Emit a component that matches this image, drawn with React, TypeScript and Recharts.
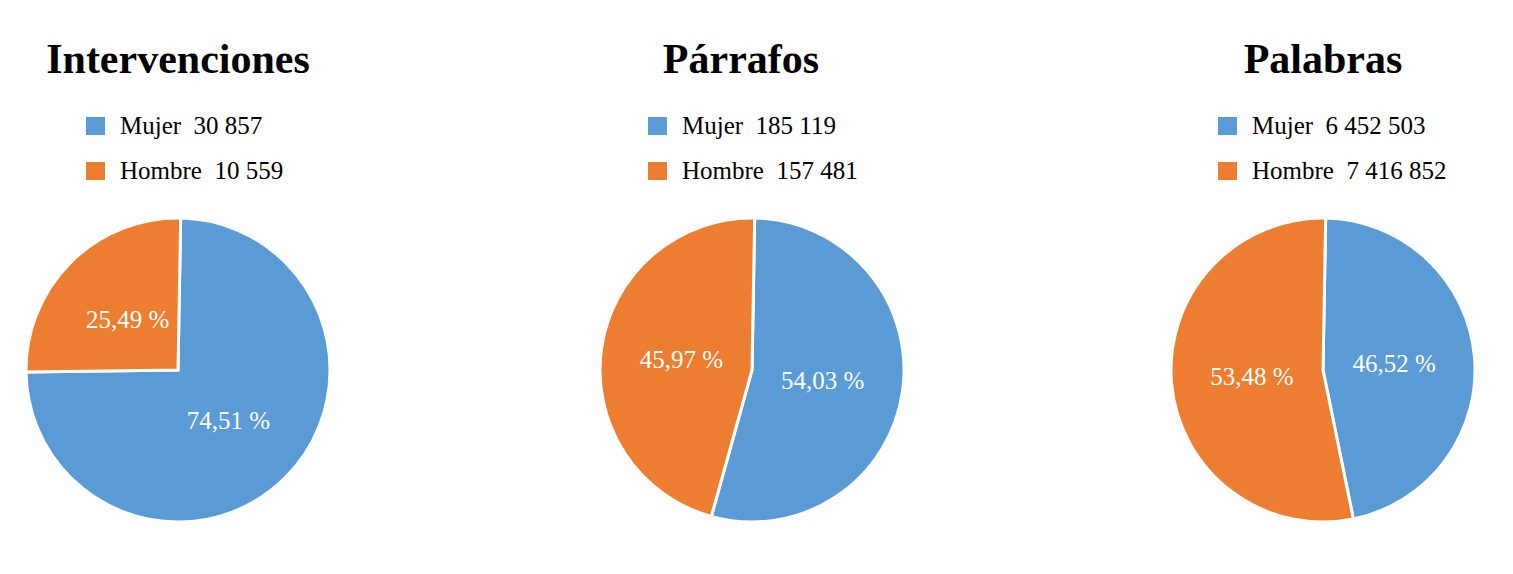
import React from "react";
import { PieChart, Pie, Cell, Legend } from "recharts";

const categories = ["Mujer", "Hombre"];
const titles = ["Intervenciones", "Párrafos", "Palabras"];
const intervenciones = [30857, 10559];
const parrafos = [185119, 157481];
const palabras = [6452503, 7416852];

const COLORS = ["#5B9BD5", "#ED7D31"];
const FONT = '"Liberation Serif", "Times New Roman", serif';
const RAD = Math.PI / 180;

const CHART_W = 420;
const CHART_H = 574;

// per chart layout: pie centre on page, title nudge, legend left offset from pie centre
const layouts = [
  { centerX: 178, titleShift: 0, legendLeft: -92 },
  { centerX: 752, titleShift: -11, legendLeft: -104 },
  { centerX: 1323, titleShift: 0, legendLeft: -105 },
];

function groupDigits(n: number): string {
  return String(n).replace(/\B(?=(\d{3})+(?!\d))/g, " ");
}

function formatPercent(p: number): string {
  return (p * 100).toFixed(2).replace(".", ",") + " %";
}

function renderLabel(props: any) {
  const { cx, cy, midAngle, outerRadius, percent } = props;
  const r = outerRadius * 0.47;
  const x = cx + r * Math.cos(-midAngle * RAD);
  const y = cy + r * Math.sin(-midAngle * RAD);
  return (
    <text
      x={x}
      y={y}
      fill="#ffffff"
      textAnchor="middle"
      dominantBaseline="central"
      style={{ fontFamily: FONT, fontSize: 25 }}
    >
      {formatPercent(percent)}
    </text>
  );
}

function LegendContent({ payload }: any) {
  const items = [...(payload || [])].sort(
    (a: any, b: any) => categories.indexOf(a.value) - categories.indexOf(b.value)
  );
  return (
    <div style={{ fontFamily: FONT, fontSize: 25, color: "#000" }}>
      {items.map((entry: any, i: number) => (
        <div
          key={i}
          style={{ display: "flex", alignItems: "center", height: 24, marginBottom: i === 0 ? 21 : 0 }}
        >
          <span
            style={{ width: 19, height: 18, background: entry.color, display: "inline-block", marginRight: 15 }}
          />
          <span style={{ whiteSpace: "pre" }}>
            {entry.value}
            {"  "}
            {groupDigits(entry.payload?.value ?? 0)}
          </span>
        </div>
      ))}
    </div>
  );
}

function SinglePie({ title, values, layout }: { title: string; values: number[]; layout: any }) {
  const data = categories.map((name, i) => ({ name, value: values[i] }));
  const cx = CHART_W / 2;
  return (
    <div
      style={{
        position: "absolute",
        left: layout.centerX - cx,
        top: 0,
        width: CHART_W,
        height: CHART_H,
      }}
    >
      <div
        style={{
          position: "absolute",
          top: 38,
          left: layout.titleShift,
          width: CHART_W,
          textAlign: "center",
          fontFamily: FONT,
          fontWeight: "bold",
          fontSize: 42,
          lineHeight: "42px",
          color: "#000",
        }}
      >
        {title}
      </div>
      <PieChart width={CHART_W} height={CHART_H} margin={{ top: 0, right: 0, bottom: 0, left: 0 }}>
        <Legend
          content={<LegendContent />}
          wrapperStyle={{ position: "absolute", top: 114, left: cx + layout.legendLeft, width: 320 }}
        />
        <Pie
          data={data}
          dataKey="value"
          nameKey="name"
          cx={cx}
          cy={370}
          outerRadius={152}
          startAngle={89}
          endAngle={-271}
          stroke="#ffffff"
          strokeWidth={3}
          label={renderLabel}
          labelLine={false}
          isAnimationActive={false}
        >
          {data.map((_, i) => (
            <Cell key={i} fill={COLORS[i]} />
          ))}
        </Pie>
      </PieChart>
    </div>
  );
}

export default function App() {
  const series = [intervenciones, parrafos, palabras];
  return (
    <div
      style={{
        position: "absolute",
        left: 0,
        top: 0,
        width: 1513,
        height: 574,
        background: "#ffffff",
        overflow: "hidden",
      }}
    >
      {titles.map((t, i) => (
        <SinglePie key={t} title={t} values={series[i]} layout={layouts[i]} />
      ))}
    </div>
  );
}
